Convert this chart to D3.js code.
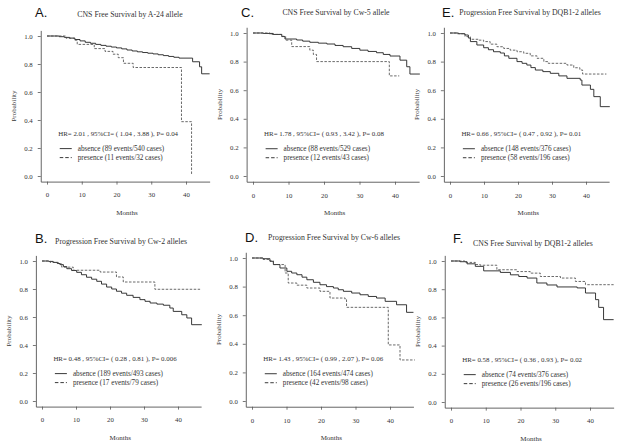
<!DOCTYPE html>
<html><head><meta charset="utf-8">
<script src="https://cdn.jsdelivr.net/npm/d3@7"></script>
<style>
html,body{margin:0;padding:0;background:#fff;}
svg{display:block;}
text{font-family:"Liberation Serif","Times New Roman",serif;fill:#333;}
.lbl{font-family:"Liberation Sans",Arial,sans-serif;fill:#111;}
</style></head>
<body>
<svg id="chart" width="627" height="447"></svg>
<script>
// ---------- DATA ----------
const panelIds = ["A","B","C","D","E","F"];
const panelLabels = ["A.","B.","C.","D.","E.","F."];
const titles = [
  "CNS Free Survival by A-24 allele",
  "Progression Free Survival by Cw-2 alleles",
  "CNS Free Survival by Cw-5 allele",
  "Progression Free Survival by Cw-6 alleles",
  "Progression Free Survival by DQB1-2 alleles",
  "CNS Free Survival by DQB1-2 alleles"
];
const hrTexts = [
  "HR= 2.01 , 95%CI= ( 1.04 , 3.88 ), P= 0.04",
  "HR= 0.48 , 95%CI= ( 0.28 , 0.81 ), P= 0.006",
  "HR= 1.78 , 95%CI= ( 0.93 , 3.42 ), P= 0.08",
  "HR= 1.43 , 95%CI= ( 0.99 , 2.07 ), P= 0.06",
  "HR= 0.66 , 95%CI= ( 0.47 , 0.92 ), P= 0.01",
  "HR= 0.58 , 95%CI= ( 0.36 , 0.93 ), P= 0.02"
];
const absenceLegend = [
  "absence (89 events/540 cases)",
  "absence (189 events/493 cases)",
  "absence (88 events/529 cases)",
  "absence (164 events/474 cases)",
  "absence (148 events/376 cases)",
  "absence (74 events/376 cases)"
];
const presenceLegend = [
  "presence (11 events/32 cases)",
  "presence (17 events/79 cases)",
  "presence (12 events/43 cases)",
  "presence (42 events/98 cases)",
  "presence (58 events/196 cases)",
  "presence (26 events/196 cases)"
];
const monthTicks = [0,10,20,30,40];
const probTicks = [0,0.2,0.4,0.6,0.8,1.0];
const xLabel = "Months";
const yLabel = "Probability";

// Kaplan-Meier step points [month, survival]
const absenceA = [[0,1],[3.5,0.995],[5,0.99],[6.5,0.985],[8,0.975],[9.5,0.965],[11,0.955],[12.5,0.948],[14,0.94],[15.5,0.933],[17,0.927],[18.5,0.921],[20,0.915],[21.5,0.908],[23,0.9],[24.5,0.893],[26,0.887],[27.5,0.882],[29,0.877],[30.5,0.872],[32,0.866],[33.5,0.86],[35,0.854],[36.5,0.848],[38,0.842],[41.9,0.816],[43.9,0.78],[44.5,0.73],[46.8,0.73]];
const presenceA = [[0,1],[5.5,0.984],[8,0.97],[8.7,0.94],[13.6,0.91],[16.7,0.89],[19,0.87],[20.5,0.845],[22,0.805],[24.8,0.775],[38.7,0.388],[41.6,0.005],[41.6,0.005]];

const absenceB = [[0,1],[2,0.997],[3.3,0.99],[4.5,0.982],[5.3,0.974],[6.3,0.96],[7.3,0.945],[8.7,0.932],[10.2,0.919],[11.6,0.902],[13.1,0.884],[14.6,0.87],[16.1,0.855],[17.5,0.835],[19,0.814],[20.5,0.8],[21.9,0.784],[23.4,0.77],[24.9,0.755],[26.8,0.74],[28.8,0.724],[30.3,0.712],[31.8,0.7],[33.8,0.692],[35.7,0.684],[37.6,0.664],[38.6,0.64],[41.1,0.616],[42.6,0.593],[44,0.545],[47,0.545]];
const presenceB = [[0,1],[2.4,0.99],[4.8,0.98],[5.8,0.956],[9.2,0.934],[17.1,0.921],[21.9,0.886],[23.9,0.85],[33.2,0.798],[46.5,0.798]];

const absenceC = [[0,1],[2.9,0.997],[5.7,0.99],[8.1,0.975],[9,0.958],[12.3,0.951],[14,0.943],[16,0.935],[18.4,0.929],[20.8,0.923],[23.1,0.913],[25.4,0.904],[27.8,0.892],[30.1,0.88],[32.4,0.871],[34.8,0.862],[36.7,0.85],[38.6,0.839],[41.4,0.81],[43.3,0.764],[44.2,0.713],[47,0.713]];
const presenceC = [[0,1],[4.8,0.99],[8.1,0.977],[9.2,0.95],[10.9,0.905],[16,0.88],[17,0.85],[17.9,0.8],[38.4,0.7],[41.2,0.7]];

const absenceD = [[0,1],[3.2,0.995],[5.2,0.977],[6.2,0.954],[8.1,0.93],[10.1,0.907],[11.5,0.895],[13,0.883],[14.5,0.866],[15.9,0.848],[17.8,0.83],[19.7,0.813],[21.6,0.8],[23.6,0.79],[25,0.778],[26.5,0.767],[28.9,0.755],[31.3,0.743],[33.7,0.731],[36.1,0.72],[38.6,0.697],[41.9,0.673],[44.8,0.62],[46.8,0.62]];
const presenceD = [[0,1],[3.2,0.99],[5.2,0.98],[6.2,0.954],[9.6,0.895],[10.5,0.825],[13,0.81],[15.9,0.79],[19.7,0.767],[22.6,0.72],[27,0.71],[27.4,0.655],[39.5,0.392],[42.9,0.287],[47.2,0.287]];

const absenceE = [[0,1],[2.5,0.995],[4.4,0.986],[5.4,0.965],[6,0.94],[7.9,0.916],[9.9,0.897],[11.3,0.883],[12.8,0.869],[14.8,0.86],[16,0.84],[17.3,0.823],[19.7,0.8],[21.2,0.788],[22.6,0.776],[23.8,0.758],[25.1,0.741],[27.3,0.73],[29.5,0.718],[32,0.7],[34.4,0.683],[38.3,0.671],[38.8,0.636],[41.3,0.606],[42.3,0.555],[44.2,0.485],[47,0.485]];
const presenceE = [[0,1],[2,0.995],[4.4,0.975],[6,0.956],[8.4,0.95],[9.9,0.94],[11.8,0.922],[13.8,0.904],[15.8,0.892],[17.7,0.88],[19.7,0.869],[21.7,0.858],[23.6,0.84],[25.6,0.823],[27.6,0.8],[28.9,0.788],[34.4,0.776],[36.4,0.757],[38.2,0.741],[39,0.713],[46,0.713]];

const absenceF = [[0,1],[2.6,0.995],[4.6,0.98],[7,0.962],[9.4,0.93],[14.2,0.919],[17.1,0.902],[19.5,0.89],[21.9,0.879],[24.7,0.844],[27.6,0.83],[30.5,0.816],[36.3,0.809],[38.7,0.773],[41.6,0.726],[42.5,0.671],[43.9,0.584],[46.8,0.584]];
const presenceF = [[0,1],[4,0.99],[7,0.975],[8.4,0.97],[13.2,0.938],[19,0.925],[22.8,0.914],[25.7,0.89],[31.5,0.879],[35.8,0.855],[38.7,0.832],[46.8,0.832]];

const absenceCurves = [absenceA,absenceB,absenceC,absenceD,absenceE,absenceF];
const presenceCurves = [presenceA,presenceB,presenceC,presenceD,presenceE,presenceF];

// ---------- LAYOUT (pixel geometry per panel) ----------
const layout = {
  A:{x0:47, x40:186, y1:36, y0:176, lab:[35,17], title:[130,17]},
  C:{x0:253,x40:395, y1:33, y0:176, lab:[241,17], title:[336,14.5]},
  E:{x0:450,x40:586, y1:33, y0:176, lab:[442,17], title:[530,14.5]},
  B:{x0:42, x40:178, y1:261,y0:401, lab:[35,243], title:[121,244]},
  D:{x0:252,x40:390, y1:258,y0:401, lab:[245,242], title:[334,239.5]},
  F:{x0:451,x40:590, y1:261,y0:402, lab:[453,243], title:[533,246]}
};

const svg = d3.select("#chart");
const axisColor = "#555";

panelIds.forEach((id,i)=>{
  const L = layout[id];
  const pxPerMonth = (L.x40-L.x0)/40;
  const pxPerUnit = (L.y0-L.y1);
  const xDom = [-1.8, 46.8], yDom = [-0.04, 1.04];
  const x = d3.scaleLinear().domain(xDom).range([L.x0 + xDom[0]*pxPerMonth, L.x0 + xDom[1]*pxPerMonth]);
  const y = d3.scaleLinear().domain(yDom).range([L.y0 - yDom[0]*pxPerUnit, L.y0 - yDom[1]*pxPerUnit]);
  const g = svg.append("g");
  const left = x(xDom[0]), bottom = y(yDom[0]);

  // axes
  const ax = g.append("g").attr("transform",`translate(0,${bottom})`)
    .call(d3.axisBottom(x).tickValues(monthTicks).tickFormat(d3.format("d")).tickSize(3).tickSizeOuter(0).tickPadding(8));
  const ay = g.append("g").attr("transform",`translate(${left},0)`)
    .call(d3.axisLeft(y).tickValues(probTicks).tickFormat(d3.format(".1f")).tickSize(3).tickSizeOuter(0).tickPadding(5));
  [ax,ay].forEach(a=>{
    a.selectAll("path.domain").attr("stroke",axisColor).attr("stroke-width",0.9);
    a.selectAll(".tick line").attr("stroke",axisColor).attr("stroke-width",0.8);
    a.selectAll(".tick text").attr("font-family",'"Liberation Serif",serif').attr("font-size",6.8).attr("fill","#333");
  });

  // curves
  const line = d3.line().x(d=>x(d[0])).y(d=>y(d[1])).curve(d3.curveStepAfter);
  g.append("path").datum(absenceCurves[i]).attr("d",line).attr("fill","none")
    .attr("stroke","#222").attr("stroke-width",0.9);
  g.append("path").datum(presenceCurves[i]).attr("d",line).attr("fill","none")
    .attr("stroke","#444").attr("stroke-width",0.8).attr("stroke-dasharray","2.5,1.5");

  // labels
  g.append("text").attr("class","lbl").attr("x",L.lab[0]).attr("y",L.lab[1])
    .attr("font-size",13).text(panelLabels[i]);
  g.append("text").attr("x",L.title[0]).attr("y",L.title[1]).attr("text-anchor","middle")
    .attr("font-size",7.8).text(titles[i]);
  g.append("text").attr("x",x(23)).attr("y",bottom+33.5)
    .attr("text-anchor","middle").attr("font-size",7).text(xLabel);
  g.append("text").attr("transform",`translate(${left-25},${y(0.5)}) rotate(-90)`)
    .attr("text-anchor","middle").attr("font-size",7).text(yLabel);

  // HR text & legend
  g.append("text").attr("x",left+17.5).attr("y",bottom-48+2.3).attr("font-size",6.9).text(hrTexts[i]);
  const rows = [[-33,absenceLegend[i],null],[-24,presenceLegend[i],"3.5,2"]];
  rows.forEach(r=>{
    const ln = g.append("line").attr("x1",left+19).attr("x2",left+31).attr("y1",bottom+r[0]).attr("y2",bottom+r[0])
      .attr("stroke","#222").attr("stroke-width",0.9);
    if(r[2]) ln.attr("stroke-dasharray",r[2]);
    g.append("text").attr("x",left+37).attr("y",bottom+r[0]+2.3).attr("font-size",7.2).text(r[1]);
  });
});
</script>
</body></html>
